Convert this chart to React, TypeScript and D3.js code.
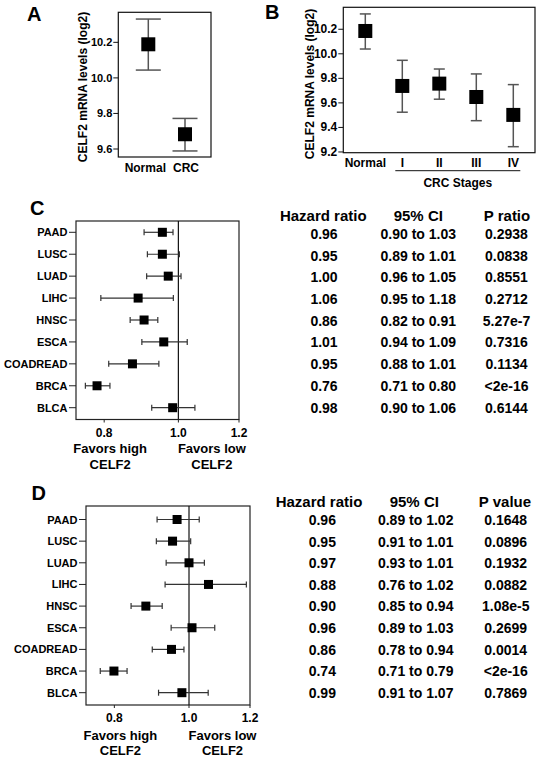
import React from "react";
import * as d3 from "d3";

// ---------- DATA ----------
const panelACategories = ["Normal", "CRC"];
const panelAMean = [10.189, 9.683];
const panelALow = [10.044, 9.589];
const panelAHigh = [10.331, 9.772];
const panelATicks = [9.6, 9.8, 10.0, 10.2];

const panelBCategories = ["Normal", "I", "II", "III", "IV"];
const panelBMean = [10.186, 9.738, 9.757, 9.648, 9.502];
const panelBLow = [10.039, 9.524, 9.63, 9.455, 9.243];
const panelBHigh = [10.325, 9.947, 9.876, 9.836, 9.749];
const panelBTicks = [9.2, 9.4, 9.6, 9.8, 10.0, 10.2];

const cancerTypes = ["PAAD", "LUSC", "LUAD", "LIHC", "HNSC", "ESCA", "COADREAD", "BRCA", "BLCA"];
const forestTicks = [0.8, 1.0, 1.2];

const forestCHR = [0.953, 0.953, 0.97, 0.886, 0.902, 0.957, 0.871, 0.783, 0.983];
const forestCLow = [0.902, 0.911, 0.909, 0.792, 0.865, 0.896, 0.811, 0.756, 0.923];
const forestCHigh = [0.984, 1.003, 1.008, 0.985, 0.94, 1.027, 0.943, 0.814, 1.051];

const forestDHR = [0.965, 0.952, 1.0, 1.06, 0.879, 1.009, 0.949, 0.799, 0.979];
const forestDLow = [0.909, 0.907, 0.934, 0.931, 0.841, 0.948, 0.896, 0.767, 0.913];
const forestDHigh = [1.031, 1.005, 1.047, 1.187, 0.923, 1.08, 0.985, 0.831, 1.059];

const tableCHeaders = ["Hazard ratio", "95% CI", "P ratio"];
const tableCHR = ["0.96", "0.95", "1.00", "1.06", "0.86", "1.01", "0.95", "0.76", "0.98"];
const tableCCI = ["0.90 to 1.03", "0.89 to 1.01", "0.96 to 1.05", "0.95 to 1.18", "0.82 to 0.91", "0.94 to 1.09", "0.88 to 1.01", "0.71 to 0.80", "0.90 to 1.06"];
const tableCP = ["0.2938", "0.0838", "0.8551", "0.2712", "5.27e-7", "0.7316", "0.1134", "<2e-16", "0.6144"];

const tableDHeaders = ["Hazard ratio", "95% CI", "P value"];
const tableDHR = ["0.96", "0.95", "0.97", "0.88", "0.90", "0.96", "0.86", "0.74", "0.99"];
const tableDCI = ["0.89 to 1.02", "0.91 to 1.01", "0.93 to 1.01", "0.76 to 1.02", "0.85 to 0.94", "0.89 to 1.03", "0.78 to 0.94", "0.71 to 0.79", "0.91 to 1.07"];
const tableDP = ["0.1648", "0.0896", "0.1932", "0.0882", "1.08e-5", "0.2699", "0.0014", "<2e-16", "0.7869"];

const FONT = "'Liberation Sans', Arial, Helvetica, sans-serif";

type DotPanelProps = {
  cats: string[];
  mean: number[];
  low: number[];
  high: number[];
  ticks: number[];
  box: { x0: number; x1: number; y0: number; y1: number };
  domain: [number, number];
  xRange: [number, number];
  capW: number;
  sq: number;
  tickFont: number;
  labelX: number;
  labelY: number;
  catY: number;
  catDx: number[];
};

function DotPanel(p: DotPanelProps) {
  const x = d3.scalePoint<string>().domain(p.cats).range(p.xRange);
  const y = d3.scaleLinear().domain(p.domain).range([p.box.y1, p.box.y0]);
  return (
    <g>
      <rect x={p.box.x0} y={p.box.y0} width={p.box.x1 - p.box.x0} height={p.box.y1 - p.box.y0} fill="none" stroke="#111" strokeWidth={1.2} />
      {p.ticks.map((t) => (
        <g key={t}>
          <line x1={p.box.x0 - 5} x2={p.box.x0} y1={y(t)} y2={y(t)} stroke="#111" strokeWidth={1} />
          <text x={p.box.x0 - 6} y={y(t)} textAnchor="end" dominantBaseline="central" fontSize={p.tickFont} fontWeight="bold" fontFamily={FONT}>
            {t.toFixed(1)}
          </text>
        </g>
      ))}
      <text transform={`translate(${p.labelX},${p.labelY}) rotate(-90)`} textAnchor="middle" dominantBaseline="central" fontSize={12} fontWeight="bold" fontFamily={FONT}>
        CELF2 mRNA levels (log2)
      </text>
      {p.cats.map((c, i) => {
        const cx = x(c) as number;
        return (
          <g key={c}>
            <line x1={cx} x2={cx} y1={y(p.low[i])} y2={y(p.high[i])} stroke="#555" strokeWidth={1.5} />
            <line x1={cx - p.capW / 2} x2={cx + p.capW / 2} y1={y(p.low[i])} y2={y(p.low[i])} stroke="#555" strokeWidth={1.5} />
            <line x1={cx - p.capW / 2} x2={cx + p.capW / 2} y1={y(p.high[i])} y2={y(p.high[i])} stroke="#555" strokeWidth={1.5} />
            <rect x={cx - p.sq / 2} y={y(p.mean[i]) - p.sq / 2} width={p.sq} height={p.sq} fill="#000" />
            <text x={cx + (p.catDx[i] || 0)} y={p.catY} textAnchor="middle" dominantBaseline="central" fontSize={12} fontWeight="bold" fontFamily={FONT}>
              {c}
            </text>
          </g>
        );
      })}
    </g>
  );
}

type ForestProps = {
  hr: number[];
  low: number[];
  high: number[];
  box: { x0: number; x1: number; y0: number; y1: number };
  rowRange: [number, number];
  tickY: number;
  favY: number;
  celfY: number;
};

function Forest(p: ForestProps) {
  const x = d3.scaleLog().domain([0.735, 1.2]).range([p.box.x0, p.box.x1]);
  const y = d3.scalePoint<string>().domain(cancerTypes).range(p.rowRange);
  const sq = 9;
  const cap = 3;
  return (
    <g fontFamily={FONT} fontWeight="bold">
      <rect x={p.box.x0} y={p.box.y0} width={p.box.x1 - p.box.x0} height={p.box.y1 - p.box.y0} fill="none" stroke="#222" strokeWidth={1.2} />
      <line x1={x(1)} x2={x(1)} y1={p.box.y0} y2={p.box.y1} stroke="#111" strokeWidth={1.2} />
      {forestTicks.map((t) => (
        <g key={t}>
          <line x1={x(t)} x2={x(t)} y1={p.box.y1} y2={p.box.y1 + 3} stroke="#222" />
          <text x={x(t)} y={p.tickY} textAnchor="middle" dominantBaseline="central" fontSize={12}>
            {t.toFixed(1)}
          </text>
        </g>
      ))}
      <text x={x(0.8) + 6} y={p.favY} textAnchor="middle" dominantBaseline="central" fontSize={13}>Favors high</text>
      <text x={x(0.8) + 6} y={p.celfY} textAnchor="middle" dominantBaseline="central" fontSize={13}>CELF2</text>
      <text x={x(1) + 33.5} y={p.favY} textAnchor="middle" dominantBaseline="central" fontSize={13}>Favors low</text>
      <text x={x(1) + 33.5} y={p.celfY} textAnchor="middle" dominantBaseline="central" fontSize={13}>CELF2</text>
      {cancerTypes.map((c, i) => {
        const cy = y(c) as number;
        return (
          <g key={c}>
            <line x1={p.box.x0 - 7} x2={p.box.x0} y1={cy} y2={cy} stroke="#222" />
            <text x={p.box.x0 - 8.5} y={cy} textAnchor="end" dominantBaseline="central" fontSize={11}>
              {c}
            </text>
            <line x1={x(p.low[i])} x2={x(p.high[i])} y1={cy} y2={cy} stroke="#333" strokeWidth={1.2} />
            <line x1={x(p.low[i])} x2={x(p.low[i])} y1={cy - cap} y2={cy + cap} stroke="#333" strokeWidth={1.2} />
            <line x1={x(p.high[i])} x2={x(p.high[i])} y1={cy - cap} y2={cy + cap} stroke="#333" strokeWidth={1.2} />
            <rect x={x(p.hr[i]) - sq / 2} y={cy - sq / 2} width={sq} height={sq} fill="#000" />
          </g>
        );
      })}
    </g>
  );
}

type TableProps = {
  headers: string[];
  hr: string[];
  ci: string[];
  pv: string[];
  headerX: number[];
  colX: number[];
  headerY: number;
  rowRange: [number, number];
};

function Table(p: TableProps) {
  const y = d3.scalePoint<string>().domain(cancerTypes).range(p.rowRange);
  const cols = [p.hr, p.ci, p.pv];
  return (
    <g fontFamily={FONT} fontWeight="bold" textAnchor="middle">
      {p.headers.map((h, j) => (
        <text key={h} x={p.headerX[j]} y={p.headerY} dominantBaseline="central" fontSize={15}>
          {h}
        </text>
      ))}
      {cancerTypes.map((c, i) =>
        cols.map((col, j) => (
          <text key={c + j} x={p.colX[j]} y={y(c) as number} dominantBaseline="central" fontSize={14}>
            {col[i]}
          </text>
        ))
      )}
    </g>
  );
}

export default function App() {
  return (
    <svg width={540} height={758} style={{ position: "absolute", left: 0, top: 0, background: "#fff" }}>
      <rect width={540} height={758} fill="#fff" />
      <g fontFamily={FONT} fontWeight="bold" fontSize={20}>
        <text x={27} y={21}>A</text>
        <text x={265} y={18.5}>B</text>
        <text x={30} y={215}>C</text>
        <text x={31.5} y={500}>D</text>
      </g>
      <DotPanel
        cats={panelACategories}
        mean={panelAMean}
        low={panelALow}
        high={panelAHigh}
        ticks={panelATicks}
        box={{ x0: 118.3, x1: 211, y0: 12.3, y1: 157 }}
        domain={[9.555, 10.369]}
        xRange={[148.3, 185]}
        capW={25}
        sq={14}
        tickFont={11}
        labelX={82.7}
        labelY={87}
        catY={167.7}
        catDx={[-3, 1]}
      />
      <DotPanel
        cats={panelBCategories}
        mean={panelBMean}
        low={panelBLow}
        high={panelBHigh}
        ticks={panelBTicks}
        box={{ x0: 343.3, x1: 535, y0: 7.3, y1: 152.7 }}
        domain={[9.194, 10.379]}
        xRange={[365.3, 513.3]}
        capW={11}
        sq={14}
        tickFont={12}
        labelX={310}
        labelY={84}
        catY={162.7}
        catDx={[0, 0, 0, 0, 0]}
      />
      {(() => {
        const x = d3.scalePoint<string>().domain(panelBCategories).range([365.3, 513.3]);
        const x0 = (x("I") as number) - 7;
        const x1 = (x("IV") as number) + 7;
        return (
          <g>
            <line x1={x0} x2={x1} y1={170.7} y2={170.7} stroke="#111" strokeWidth={1} />
            <text x={(x0 + x1) / 2} y={182.7} textAnchor="middle" dominantBaseline="central" fontSize={12} fontWeight="bold" fontFamily={FONT}>
              CRC Stages
            </text>
          </g>
        );
      })()}
      <Forest
        hr={forestCHR}
        low={forestCLow}
        high={forestCHigh}
        box={{ x0: 76, x1: 239, y0: 221, y1: 419.5 }}
        rowRange={[232.3, 407.7]}
        tickY={433.3}
        favY={448.3}
        celfY={464.3}
      />
      <Forest
        hr={forestDHR}
        low={forestDLow}
        high={forestDHigh}
        box={{ x0: 86, x1: 250, y0: 506, y1: 705 }}
        rowRange={[519.5, 692.7]}
        tickY={718}
        favY={735}
        celfY={750}
      />
      <Table
        headers={tableCHeaders}
        hr={tableCHR}
        ci={tableCCI}
        pv={tableCP}
        headerX={[323.3, 418.3, 507]}
        colX={[324, 418.3, 506.5]}
        headerY={215}
        rowRange={[233.8, 407.5]}
      />
      <Table
        headers={tableDHeaders}
        hr={tableDHR}
        ci={tableDCI}
        pv={tableDP}
        headerX={[319, 414.3, 505]}
        colX={[322.3, 415.7, 505.7]}
        headerY={501.7}
        rowRange={[520, 692.7]}
      />
    </svg>
  );
}
